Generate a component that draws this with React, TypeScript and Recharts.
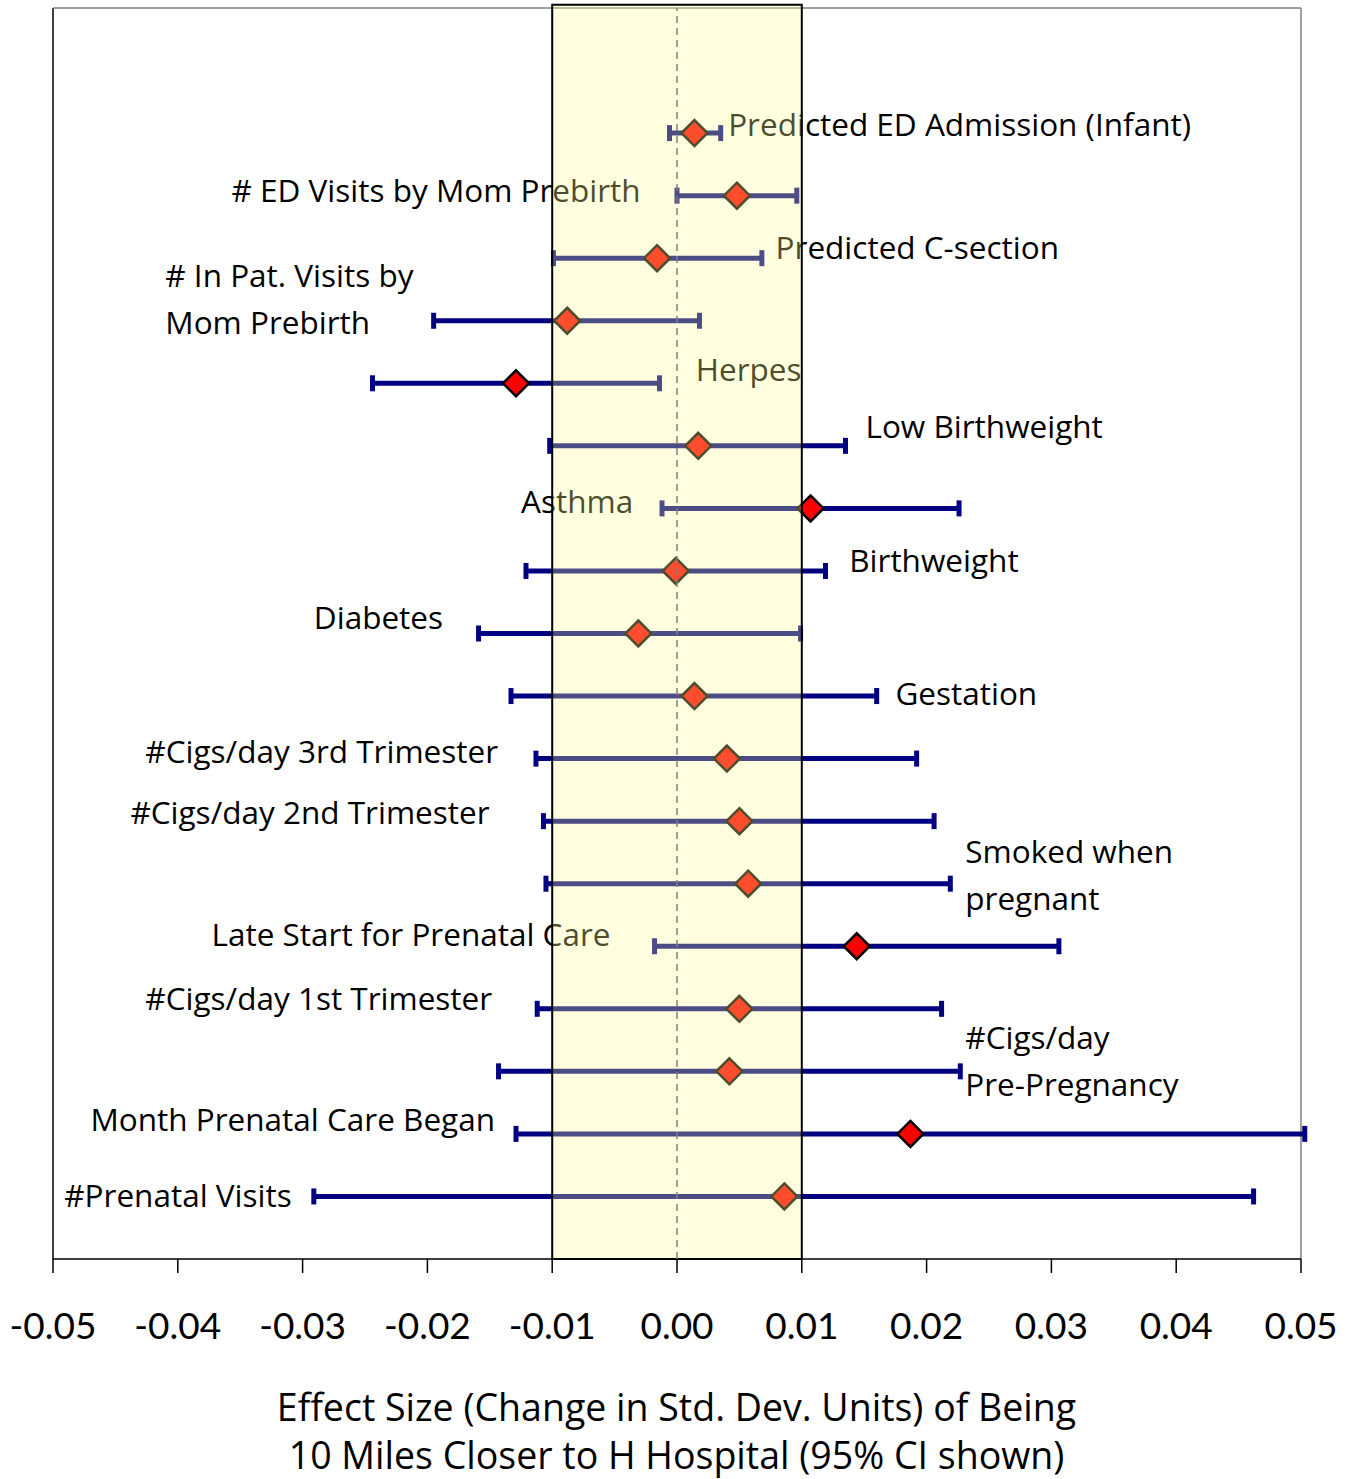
import React from 'react';
import {
  ScatterChart,
  Scatter,
  XAxis,
  YAxis,
  ErrorBar,
  ReferenceArea,
  ReferenceLine,
} from 'recharts';

// one row per outcome, top to bottom
const outcomes = [
  'Predicted ED Admission (Infant)',
  '# ED Visits by Mom Prebirth',
  'Predicted C-section',
  '# In Pat. Visits by Mom Prebirth',
  'Herpes',
  'Low Birthweight',
  'Asthma',
  'Birthweight',
  'Diabetes',
  'Gestation',
  '#Cigs/day 3rd Trimester',
  '#Cigs/day 2nd Trimester',
  'Smoked when pregnant',
  'Late Start for Prenatal Care',
  '#Cigs/day 1st Trimester',
  '#Cigs/day Pre-Pregnancy',
  'Month Prenatal Care Began',
  '#Prenatal Visits',
];

const estimate = [
  0.0014, 0.0048, -0.0016, -0.0088, -0.0129, 0.0017, 0.0107, -0.0001, -0.0031,
  0.0014, 0.004, 0.005, 0.0057, 0.0144, 0.005, 0.0042, 0.0187, 0.0086,
];
const ciLow = [
  -0.0006, 0.0, -0.0099, -0.0195, -0.0244, -0.0102, -0.0012, -0.0121, -0.0159,
  -0.0133, -0.0113, -0.0107, -0.0105, -0.0018, -0.0112, -0.0143, -0.0129, -0.0291,
];
const ciHigh = [
  0.0035, 0.0096, 0.0068, 0.0018, -0.0014, 0.0135, 0.0226, 0.0119, 0.0099,
  0.016, 0.0192, 0.0206, 0.0219, 0.0306, 0.0212, 0.0227, 0.0503, 0.0462,
];

// label text lines for each row
const labelLines = [
  ['Predicted ED Admission (Infant)'],
  ['# ED Visits by Mom Prebirth'],
  ['Predicted C-section'],
  ['# In Pat. Visits by', 'Mom Prebirth'],
  ['Herpes'],
  ['Low Birthweight'],
  ['Asthma'],
  ['Birthweight'],
  ['Diabetes'],
  ['Gestation'],
  ['#Cigs/day 3rd Trimester'],
  ['#Cigs/day 2nd Trimester'],
  ['Smoked when', 'pregnant'],
  ['Late Start for Prenatal Care'],
  ['#Cigs/day 1st Trimester'],
  ['#Cigs/day', 'Pre-Pregnancy'],
  ['Month Prenatal Care Began'],
  ['#Prenatal Visits'],
];

// where each label starts (x in effect units, first line offset in row units)
const labelX = [
  0.0041, -0.0357, 0.0079, -0.041, 0.0015, 0.0151, -0.0125, 0.0138, -0.0291,
  0.0175, -0.0426, -0.0438, 0.0231, -0.0373, -0.0426, 0.0231, -0.047, -0.0491,
];
const labelDy = [
  0.13, 0.08, 0.16, 0.72, 0.21, 0.3, 0.1, 0.16, 0.24,
  0.03, 0.11, 0.13, 0.51, 0.18, 0.16, 0.54, 0.22, 0.0,
];

const xTicks = [-0.05, -0.04, -0.03, -0.02, -0.01, 0, 0.01, 0.02, 0.03, 0.04, 0.05];

const TICK_FONT = 'Lato, "Open Sans", sans-serif';
const TEXT_FONT = '"Open Sans", Lato, sans-serif';

const rows = outcomes.map((name, i) => ({
  name,
  x: estimate[i],
  y: outcomes.length - i,
  err: [estimate[i] - ciLow[i], ciHigh[i] - estimate[i]],
}));

const labels = outcomes.map((name, i) => ({
  x: labelX[i],
  y: outcomes.length - i + labelDy[i],
  lines: labelLines[i],
}));

const Diamond = (props: any) => {
  const { cx, cy } = props;
  const r = 13;
  return (
    <polygon
      points={`${cx},${cy - r} ${cx + r},${cy} ${cx},${cy + r} ${cx - r},${cy}`}
      fill="#ff0000"
      stroke="#000"
      strokeWidth={2.5}
    />
  );
};

const LabelText = (props: any) => {
  const { cx, cy, payload } = props;
  const step = 47;
  const top = cy - 2;
  return (
    <text
      x={cx}
      y={top}
      fontFamily={TEXT_FONT}
      fontSize={31.5}
      fill="#000"
      dominantBaseline="central"
    >
      {payload.lines.map((line: string, k: number) => (
        <tspan key={k} x={cx} y={top + k * step}>
          {line}
        </tspan>
      ))}
    </text>
  );
};

export default function App() {
  return (
    <div
      style={{
        position: 'absolute',
        top: 0,
        left: 0,
        width: 1351,
        height: 1479,
        background: '#fff',
      }}
    >
      <ScatterChart
        width={1351}
        height={1479}
        margin={{ top: 8, right: 50, bottom: 190, left: 53 }}
      >
        <XAxis
          type="number"
          dataKey="x"
          domain={[-0.05, 0.05]}
          allowDataOverflow
          ticks={xTicks}
          tickFormatter={(v: number) => v.toFixed(2)}
          tick={{ fontFamily: TICK_FONT, fontSize: 37, fill: '#000' }}
          tickSize={14}
          tickMargin={40}
          height={30}
          axisLine={{ stroke: '#000', strokeWidth: 1.5 }}
          tickLine={{ stroke: '#000', strokeWidth: 1.5 }}
        />
        <YAxis type="number" dataKey="y" domain={[0, 20]} hide />

        <ReferenceLine x={-0.05} stroke="#000" strokeWidth={1.5} />
        <ReferenceLine y={20} stroke="#808080" strokeWidth={1.5} />
        <ReferenceLine x={0.05} stroke="#808080" strokeWidth={1.5} />

        <Scatter data={labels} shape={LabelText} isAnimationActive={false} />
        <Scatter data={rows} shape={Diamond} isAnimationActive={false}>
          <ErrorBar
            dataKey="err"
            direction="x"
            width={8}
            stroke="#000080"
            strokeWidth={5}
          />
        </Scatter>

        <ReferenceArea
          x1={-0.01}
          x2={0.01}
          y1={0}
          y2={20.05}
          ifOverflow="visible"
          fill="#ffff96"
          fillOpacity={0.3}
          stroke="#000"
          strokeWidth={2}
          zIndex={1000}
        />
        <ReferenceLine
          x={0}
          stroke="#808080"
          strokeWidth={1.5}
          strokeDasharray="7 5"
          zIndex={1100}
        />
      </ScatterChart>
      <div
        style={{
          position: 'absolute',
          top: 1383,
          left: 1,
          width: 1351,
          textAlign: 'center',
          fontFamily: TEXT_FONT,
          fontSize: 37.5,
          lineHeight: '48px',
          color: '#000',
        }}
      >
        Effect Size (Change in Std. Dev. Units) of Being
        <br />
        10 Miles Closer to H Hospital (95% CI shown)
      </div>
    </div>
  );
}
